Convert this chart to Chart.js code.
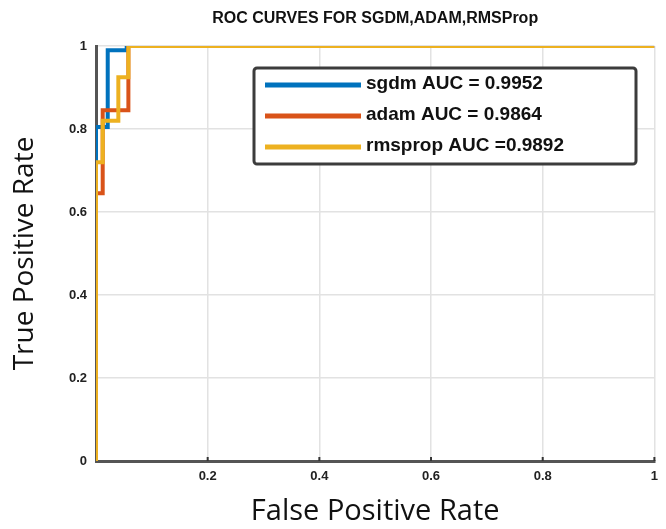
<!DOCTYPE html>
<html>
<head>
<meta charset="utf-8">
<script src="https://cdn.jsdelivr.net/npm/chart.js@4/dist/chart.umd.min.js"></script>
<style>
  html, body { margin: 0; padding: 0; background: #fff; }
  #wrap { width: 666px; height: 529px; }
</style>
</head>
<body>
<div id="wrap"><canvas id="roc" width="666" height="529"></canvas></div>
<script>
// ROC 곡선 꼭짓점 (FPR, TPR)
const sgdmFpr = [0, 0, 0.021, 0.021, 0.055, 0.055, 1];
const sgdmTpr = [0, 0.805, 0.805, 0.99, 0.99, 1, 1];

const adamFpr = [0, 0, 0.012, 0.012, 0.058, 0.058, 1];
const adamTpr = [0, 0.645, 0.645, 0.845, 0.845, 1, 1];

const rmspropFpr = [0, 0, 0.012, 0.012, 0.04, 0.04, 0.058, 0.058, 1];
const rmspropTpr = [0, 0.72, 0.72, 0.82, 0.82, 0.925, 0.925, 1, 1];

// 범례 텍스트
const seriesLabels = ['sgdm AUC = 0.9952', 'adam AUC = 0.9864', 'rmsprop AUC =0.9892'];
const seriesColors = ['#0072BD', '#D95319', '#EDB120'];

// 축 눈금
const tickValues = [0, 0.2, 0.4, 0.6, 0.8, 1];

const chartTitle = 'ROC CURVES FOR SGDM,ADAM,RMSProp';

function toPoints(xs, ys) {
    return xs.map((x, i) => ({ x: x, y: ys[i] }));
}

// 제목, 범례 상자, x축 눈금 표시
const decorPlugin = {
    id: 'decor',
    afterDraw(chart) {
        const ctx = chart.ctx;
        const area = chart.chartArea;
        const xScale = chart.scales.x;

        ctx.save();

        // 제목
        ctx.fillStyle = '#111';
        ctx.font = 'bold 16px "Liberation Sans", Arial, sans-serif';
        ctx.textAlign = 'center';
        ctx.textBaseline = 'middle';
        ctx.fillText(chartTitle, (area.left + area.right) / 2, 19);

        // x축 눈금 표시
        ctx.strokeStyle = '#333';
        ctx.lineWidth = 2;
        tickValues.slice(1).forEach(v => {
            const px = xScale.getPixelForValue(v);
            ctx.beginPath();
            ctx.moveTo(px, area.bottom);
            ctx.lineTo(px, area.bottom - 4);
            ctx.stroke();
        });

        // 범례 상자
        const box = { left: 254, top: 68, width: 382, height: 96 };
        ctx.fillStyle = '#fff';
        ctx.strokeStyle = '#3c3c3c';
        ctx.lineWidth = 3;
        ctx.beginPath();
        ctx.roundRect(box.left, box.top, box.width, box.height, 3);
        ctx.fill();
        ctx.stroke();

        const rows = [85, 116, 147];
        ctx.font = 'bold 19px "Liberation Sans", Arial, sans-serif';
        ctx.textAlign = 'left';
        ctx.textBaseline = 'middle';
        chart.data.datasets.forEach((ds, i) => {
            ctx.strokeStyle = ds.borderColor;
            ctx.lineWidth = 5;
            ctx.beginPath();
            ctx.moveTo(265, rows[i]);
            ctx.lineTo(361, rows[i]);
            ctx.stroke();
            ctx.fillStyle = '#111';
            ctx.fillText(ds.label, 366, rows[i] - 1);
        });

        ctx.restore();
    }
};

const tickFont = { family: '"Liberation Sans", Arial, sans-serif', size: 13, weight: 'bold' };

new Chart(document.getElementById('roc').getContext('2d'), {
    type: 'scatter',
    data: {
        datasets: [
            {
                label: seriesLabels[0],
                data: toPoints(sgdmFpr, sgdmTpr),
                borderColor: seriesColors[0],
                order: 3
            },
            {
                label: seriesLabels[1],
                data: toPoints(adamFpr, adamTpr),
                borderColor: seriesColors[1],
                order: 2
            },
            {
                label: seriesLabels[2],
                data: toPoints(rmspropFpr, rmspropTpr),
                borderColor: seriesColors[2],
                order: 1
            }
        ].map(ds => ({
            ...ds,
            showLine: true,
            borderWidth: 4,
            pointRadius: 0,
            pointHoverRadius: 0,
            fill: false,
            borderJoinStyle: 'miter',
            borderCapStyle: 'butt'
        }))
    },
    options: {
        responsive: false,
        animation: false,
        events: [],
        layout: {
            padding: { top: 46, right: 8, left: 0, bottom: 0 }
        },
        plugins: {
            legend: { display: false },
            title: { display: false },
            tooltip: { enabled: false }
        },
        scales: {
            x: {
                type: 'linear',
                min: 0,
                max: 1,
                afterFit(scale) { scale.height = 68; },
                afterBuildTicks(scale) { scale.ticks = tickValues.map(v => ({ value: v })); },
                grid: { color: '#e2e2e2', lineWidth: 1.5, drawTicks: false },
                border: { color: '#555', width: 3 },
                ticks: {
                    font: tickFont,
                    color: '#222',
                    padding: 8,
                    maxRotation: 0,
                    callback: v => (v === 0 ? '' : String(v))
                },
                title: {
                    display: true,
                    text: 'False Positive Rate',
                    font: { family: '"Open Sans", "Noto Sans", sans-serif', size: 29 },
                    color: '#111',
                    padding: { top: 0, bottom: 0 }
                }
            },
            y: {
                type: 'linear',
                min: 0,
                max: 1,
                afterFit(scale) { scale.width = 96; },
                afterBuildTicks(scale) { scale.ticks = tickValues.map(v => ({ value: v })); },
                grid: { color: '#e2e2e2', lineWidth: 1.5, drawTicks: false },
                border: { color: '#555', width: 3 },
                ticks: {
                    font: tickFont,
                    color: '#222',
                    padding: 9,
                    callback: v => String(v)
                },
                title: {
                    display: true,
                    text: 'True Positive Rate',
                    font: { family: '"Open Sans", "Noto Sans", sans-serif', size: 28 },
                    color: '#111',
                    padding: { top: 8, bottom: 0 }
                }
            }
        }
    },
    plugins: [decorPlugin]
});
</script>
</body>
</html>
